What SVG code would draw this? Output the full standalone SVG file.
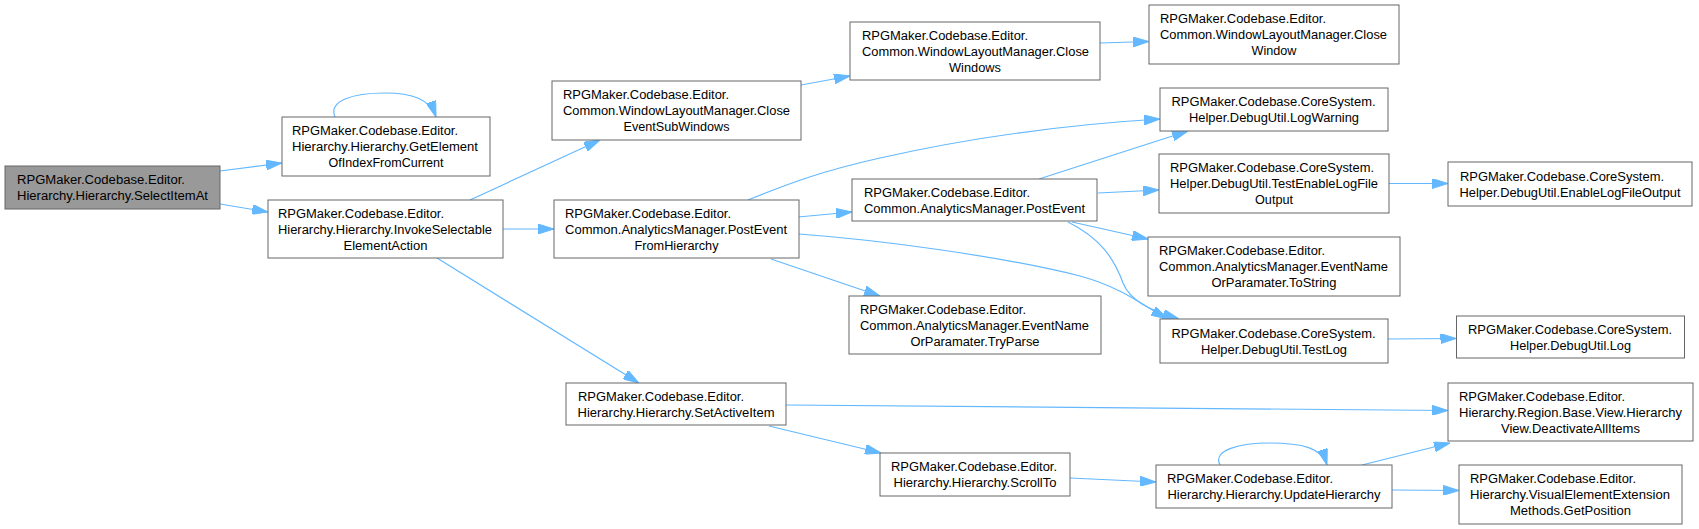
<svg xmlns="http://www.w3.org/2000/svg" width="1699" height="529" viewBox="0 0 1699 529">
<style>
.node rect{fill:#ffffff;stroke:#666666;stroke-width:1}
.node.sel rect{fill:#999999}
.node text{font-family:"Liberation Sans",Arial,sans-serif;font-size:12px;fill:#000000}
.node .m{text-anchor:middle}
.edge path{fill:none;stroke:#63b8ff;stroke-width:1.2;marker-end:url(#ah)}
</style>
<defs>
<marker id="ah" viewBox="0 0 16 10" refX="16" refY="5" markerWidth="16" markerHeight="10" markerUnits="userSpaceOnUse" orient="auto">
<path d="M0,0 L16,5 L0,10 z" fill="#63b8ff" stroke="#63b8ff" stroke-width="1"/>
</marker>
</defs>
<rect width="1699" height="529" fill="#ffffff"/>
<g id="edges" class="edge">
<path d="M220,171 L282,163"/>
<path d="M220,204 L268,212"/>
<path d="M335,117 C328,101 352,93 385,93 C412,93 430,99 436,117"/>
<path d="M470,200 L600,140"/>
<path d="M503,229 L554,229"/>
<path d="M437,258 L639,383"/>
<path d="M801,85 L850,76"/>
<path d="M1100,43 L1149,41.5"/>
<path d="M748,200 C790,183 822,171 880,158 C960,140 1060,125 1160,119"/>
<path d="M798,217 L852,212"/>
<path d="M771,259 L880,296"/>
<path d="M799,234 C880,240 1000,256 1080,276 C1120,287 1140,303 1167,319"/>
<path d="M1039,179 L1188,131"/>
<path d="M1098,193 L1159,190"/>
<path d="M1072,222 L1148,239"/>
<path d="M1068,222 C1100,238 1114,258 1123,283 C1130,300 1148,310 1179,319"/>
<path d="M1389,183.5 L1448,183.5"/>
<path d="M1388,339 L1456.5,338.5"/>
<path d="M786,405 L1448,410.5"/>
<path d="M769,426 L881,453"/>
<path d="M1070,478 L1156,482"/>
<path d="M1220,465 C1212,450 1240,443 1270,443 C1302,443 1322,448 1327,465"/>
<path d="M1362,465 L1450,443"/>
<path d="M1392,490 L1459,490.5"/>
</g>
<g id="n0" class="node sel"><rect x="5" y="166" width="215" height="43"/><text x="17" y="184" textLength="168" lengthAdjust="spacingAndGlyphs">RPGMaker.Codebase.Editor.</text><text class="m" x="112.5" y="200" textLength="191" lengthAdjust="spacingAndGlyphs">Hierarchy.Hierarchy.SelectItemAt</text></g>
<g id="n1" class="node"><rect x="282" y="117" width="208" height="59"/><text x="292" y="135" textLength="166" lengthAdjust="spacingAndGlyphs">RPGMaker.Codebase.Editor.</text><text x="292" y="151" textLength="186" lengthAdjust="spacingAndGlyphs">Hierarchy.Hierarchy.GetElement</text><text class="m" x="386" y="167" textLength="115" lengthAdjust="spacingAndGlyphs">OfIndexFromCurrent</text></g>
<g id="n2" class="node"><rect x="268" y="200" width="235" height="58"/><text x="278" y="217.5" textLength="166" lengthAdjust="spacingAndGlyphs">RPGMaker.Codebase.Editor.</text><text x="278" y="233.5" textLength="214" lengthAdjust="spacingAndGlyphs">Hierarchy.Hierarchy.InvokeSelectable</text><text class="m" x="385.5" y="249.5" textLength="84" lengthAdjust="spacingAndGlyphs">ElementAction</text></g>
<g id="n3" class="node"><rect x="552" y="81" width="249" height="59"/><text x="563" y="99" textLength="166" lengthAdjust="spacingAndGlyphs">RPGMaker.Codebase.Editor.</text><text x="563" y="115" textLength="227" lengthAdjust="spacingAndGlyphs">Common.WindowLayoutManager.Close</text><text class="m" x="676.5" y="131" textLength="106" lengthAdjust="spacingAndGlyphs">EventSubWindows</text></g>
<g id="n4" class="node"><rect x="554" y="200" width="245" height="58"/><text x="565" y="217.5" textLength="166" lengthAdjust="spacingAndGlyphs">RPGMaker.Codebase.Editor.</text><text x="565" y="233.5" textLength="222" lengthAdjust="spacingAndGlyphs">Common.AnalyticsManager.PostEvent</text><text class="m" x="676.5" y="249.5" textLength="84" lengthAdjust="spacingAndGlyphs">FromHierarchy</text></g>
<g id="n5" class="node"><rect x="566" y="383" width="220" height="42"/><text x="578" y="400.5" textLength="166" lengthAdjust="spacingAndGlyphs">RPGMaker.Codebase.Editor.</text><text class="m" x="676" y="416.5" textLength="197" lengthAdjust="spacingAndGlyphs">Hierarchy.Hierarchy.SetActiveItem</text></g>
<g id="n6" class="node"><rect x="850" y="22" width="250" height="58"/><text x="862" y="39.5" textLength="166" lengthAdjust="spacingAndGlyphs">RPGMaker.Codebase.Editor.</text><text x="862" y="55.5" textLength="227" lengthAdjust="spacingAndGlyphs">Common.WindowLayoutManager.Close</text><text class="m" x="975" y="71.5" textLength="52" lengthAdjust="spacingAndGlyphs">Windows</text></g>
<g id="n7" class="node"><rect x="852" y="179" width="245" height="42"/><text x="864" y="196.5" textLength="166" lengthAdjust="spacingAndGlyphs">RPGMaker.Codebase.Editor.</text><text class="m" x="974.5" y="212.5" textLength="221" lengthAdjust="spacingAndGlyphs">Common.AnalyticsManager.PostEvent</text></g>
<g id="n8" class="node"><rect x="849" y="296" width="252" height="58"/><text x="860" y="313.5" textLength="166" lengthAdjust="spacingAndGlyphs">RPGMaker.Codebase.Editor.</text><text x="860" y="329.5" textLength="229" lengthAdjust="spacingAndGlyphs">Common.AnalyticsManager.EventName</text><text class="m" x="975" y="345.5" textLength="129" lengthAdjust="spacingAndGlyphs">OrParamater.TryParse</text></g>
<g id="n9" class="node"><rect x="880" y="453" width="190" height="43"/><text x="891" y="471" textLength="166" lengthAdjust="spacingAndGlyphs">RPGMaker.Codebase.Editor.</text><text class="m" x="975" y="487" textLength="163" lengthAdjust="spacingAndGlyphs">Hierarchy.Hierarchy.ScrollTo</text></g>
<g id="n10" class="node"><rect x="1149" y="5" width="250" height="59"/><text x="1160" y="23" textLength="166" lengthAdjust="spacingAndGlyphs">RPGMaker.Codebase.Editor.</text><text x="1160" y="39" textLength="227" lengthAdjust="spacingAndGlyphs">Common.WindowLayoutManager.Close</text><text class="m" x="1274" y="55" textLength="45" lengthAdjust="spacingAndGlyphs">Window</text></g>
<g id="n11" class="node"><rect x="1160" y="88" width="228" height="43"/><text x="1171.5" y="106" textLength="204" lengthAdjust="spacingAndGlyphs">RPGMaker.Codebase.CoreSystem.</text><text class="m" x="1274" y="122" textLength="170" lengthAdjust="spacingAndGlyphs">Helper.DebugUtil.LogWarning</text></g>
<g id="n12" class="node"><rect x="1159" y="154" width="230" height="59"/><text x="1170" y="172" textLength="204" lengthAdjust="spacingAndGlyphs">RPGMaker.Codebase.CoreSystem.</text><text x="1170" y="188" textLength="208" lengthAdjust="spacingAndGlyphs">Helper.DebugUtil.TestEnableLogFile</text><text class="m" x="1274" y="204" textLength="38" lengthAdjust="spacingAndGlyphs">Output</text></g>
<g id="n13" class="node"><rect x="1148" y="237" width="252" height="59"/><text x="1159" y="255" textLength="166" lengthAdjust="spacingAndGlyphs">RPGMaker.Codebase.Editor.</text><text x="1159" y="271" textLength="229" lengthAdjust="spacingAndGlyphs">Common.AnalyticsManager.EventName</text><text class="m" x="1274" y="287" textLength="125" lengthAdjust="spacingAndGlyphs">OrParamater.ToString</text></g>
<g id="n14" class="node"><rect x="1160" y="319" width="228" height="44"/><text x="1171.5" y="337.5" textLength="204" lengthAdjust="spacingAndGlyphs">RPGMaker.Codebase.CoreSystem.</text><text class="m" x="1274" y="353.5" textLength="146" lengthAdjust="spacingAndGlyphs">Helper.DebugUtil.TestLog</text></g>
<g id="n15" class="node"><rect x="1156" y="465" width="236" height="43"/><text x="1167" y="483" textLength="166" lengthAdjust="spacingAndGlyphs">RPGMaker.Codebase.Editor.</text><text class="m" x="1274" y="499" textLength="213" lengthAdjust="spacingAndGlyphs">Hierarchy.Hierarchy.UpdateHierarchy</text></g>
<g id="n16" class="node"><rect x="1448" y="162" width="244" height="44"/><text x="1460" y="180.5" textLength="204" lengthAdjust="spacingAndGlyphs">RPGMaker.Codebase.CoreSystem.</text><text class="m" x="1570" y="196.5" textLength="221" lengthAdjust="spacingAndGlyphs">Helper.DebugUtil.EnableLogFileOutput</text></g>
<g id="n17" class="node"><rect x="1456.5" y="316" width="228" height="42"/><text x="1468" y="333.5" textLength="204" lengthAdjust="spacingAndGlyphs">RPGMaker.Codebase.CoreSystem.</text><text class="m" x="1570.5" y="349.5" textLength="121" lengthAdjust="spacingAndGlyphs">Helper.DebugUtil.Log</text></g>
<g id="n18" class="node"><rect x="1448" y="383" width="245" height="58"/><text x="1459" y="400.5" textLength="166" lengthAdjust="spacingAndGlyphs">RPGMaker.Codebase.Editor.</text><text x="1459" y="416.5" textLength="223" lengthAdjust="spacingAndGlyphs">Hierarchy.Region.Base.View.Hierarchy</text><text class="m" x="1570.5" y="432.5" textLength="139" lengthAdjust="spacingAndGlyphs">View.DeactivateAllItems</text></g>
<g id="n19" class="node"><rect x="1459" y="465" width="223" height="59"/><text x="1470" y="483" textLength="166" lengthAdjust="spacingAndGlyphs">RPGMaker.Codebase.Editor.</text><text x="1470" y="499" textLength="200" lengthAdjust="spacingAndGlyphs">Hierarchy.VisualElementExtension</text><text class="m" x="1570.5" y="515" textLength="121" lengthAdjust="spacingAndGlyphs">Methods.GetPosition</text></g>
</svg>
